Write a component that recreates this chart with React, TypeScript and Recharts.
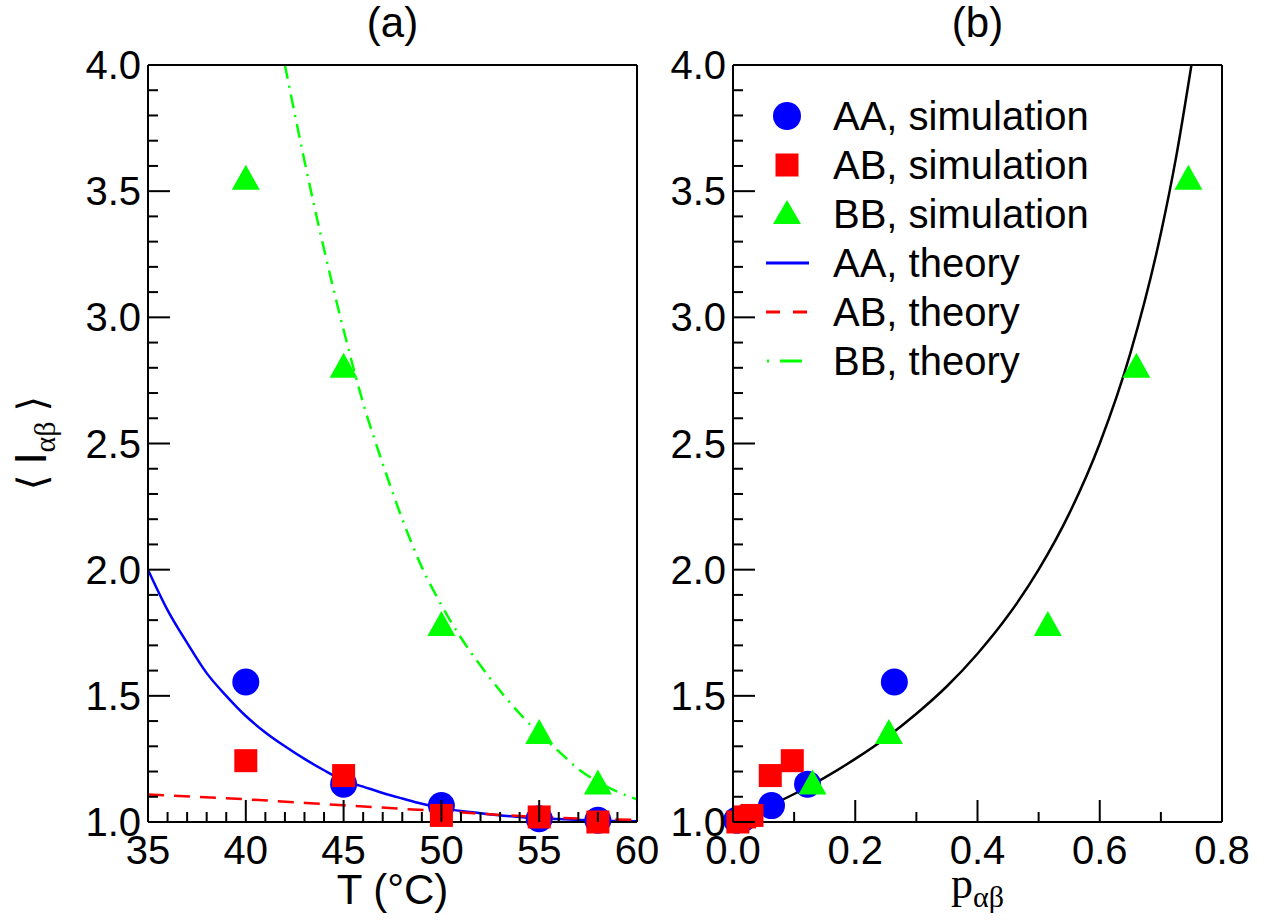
import React from "react";
import { ComposedChart, Line, Scatter, XAxis, YAxis, Legend } from "recharts";

const FONT = "'Liberation Sans', Arial, Helvetica, sans-serif";
const SERIF = "'Liberation Serif', 'DejaVu Serif', serif";

const BLUE = "#0000ff";
const RED = "#ff0000";
const GREEN = "#00ff00";

// panel (a): mean I vs temperature
const tempSim = [40, 45, 50, 55, 58];
const aaSimT = [1.555, 1.15, 1.065, 1.013, 1.007];
const abSimT = [1.243, 1.184, 1.026, 1.02, 1.0];
const bbSimT = [3.545, 2.8, 1.777, 1.349, 1.149];

const tempAA = [35, 36, 37, 38, 39, 40, 41, 42, 43, 44, 45, 46, 47, 48, 49, 50, 52, 54, 56, 58, 60];
const aaTheoryT = [2.0, 1.84, 1.71, 1.59, 1.5, 1.42, 1.355, 1.3, 1.25, 1.205, 1.165, 1.14, 1.115, 1.093, 1.072, 1.055, 1.035, 1.02, 1.012, 1.006, 1.003];
const tempAB = [35, 40, 45, 50, 55, 60];
const abTheoryT = [1.109, 1.09, 1.066, 1.043, 1.02, 1.008];
const tempBB = [42, 43, 44, 45, 46, 47, 48, 49, 50, 51, 52, 53, 54, 55, 56, 57, 58, 59, 60];
const bbTheoryT = [4.0, 3.62, 3.27, 2.95, 2.66, 2.42, 2.2, 2.01, 1.86, 1.73, 1.62, 1.52, 1.43, 1.35, 1.28, 1.21, 1.16, 1.12, 1.09];

// panel (b): mean I vs p
const aaP = [0.264, 0.122, 0.063, 0.016, 0.006];
const abP = [0.097, 0.061, 0.031, 0.019, 0.008];
const bbP = [0.745, 0.66, 0.515, 0.255, 0.13];
const pTheory = [0, 0.05, 0.1, 0.15, 0.2, 0.25, 0.3, 0.35, 0.4, 0.45, 0.5, 0.55, 0.6, 0.65, 0.7, 0.725, 0.75];
const iTheory = [1.0, 1.053, 1.111, 1.176, 1.25, 1.333, 1.429, 1.538, 1.667, 1.818, 2.0, 2.222, 2.5, 2.857, 3.333, 3.636, 4.0];

// axis ticks
const tempTicks = [35, 36, 37, 38, 39, 40, 41, 42, 43, 44, 45, 46, 47, 48, 49, 50, 51, 52, 53, 54, 55, 56, 57, 58, 59, 60];
const pTicks = [0, 0.1, 0.2, 0.3, 0.4, 0.5, 0.6, 0.7, 0.8];
const iTicks = [1.0, 1.1, 1.2, 1.3, 1.4, 1.5, 1.6, 1.7, 1.8, 1.9, 2.0, 2.1, 2.2, 2.3, 2.4, 2.5, 2.6, 2.7, 2.8, 2.9, 3.0, 3.1, 3.2, 3.3, 3.4, 3.5, 3.6, 3.7, 3.8, 3.9, 4.0];

const legendLabels = [
  "AA, simulation",
  "AB, simulation",
  "BB, simulation",
  "AA, theory",
  "AB, theory",
  "BB, theory",
];

const zip = (xs: number[], ys: number[]) => xs.map((x, i) => ({ x, y: ys[i] }));

const MAJOR = 22;
const MINOR = 10;

const isMajor = (v: number, step: number) => Math.abs(v / step - Math.round(v / step)) < 1e-6;

const labelStyle = { fontFamily: FONT, fontSize: 40, fill: "#000" };
const titleStyle = { fontFamily: FONT, fontSize: 42, fill: "#000" };

function bottomTick(step: number, digits: number) {
  return (p: any) => {
    const v = p.payload.value;
    const major = isMajor(v, step);
    return (
      <g>
        <line x1={p.x} y1={p.y} x2={p.x} y2={p.y - (major ? MAJOR : MINOR)} stroke="#000" strokeWidth={2} />
        {major && (
          <text x={p.x} y={p.y + 42} textAnchor="middle" style={labelStyle}>
            {v.toFixed(digits)}
          </text>
        )}
      </g>
    );
  };
}

function topTick(step: number) {
  return (p: any) => {
    const major = isMajor(p.payload.value, step);
    return <line x1={p.x} y1={p.y} x2={p.x} y2={p.y + (major ? MAJOR : MINOR)} stroke="#000" strokeWidth={2} />;
  };
}

const leftTick = (p: any) => {
  const v = p.payload.value;
  const major = isMajor(v, 0.5);
  return (
    <g>
      <line x1={p.x} y1={p.y} x2={p.x + (major ? MAJOR : MINOR)} y2={p.y} stroke="#000" strokeWidth={2} />
      {major && (
        <text x={p.x - 7} y={p.y + 14} textAnchor="end" style={labelStyle}>
          {v.toFixed(1)}
        </text>
      )}
    </g>
  );
};

const rightTick = (p: any) => {
  const major = isMajor(p.payload.value, 0.5);
  return <line x1={p.x} y1={p.y} x2={p.x - (major ? MAJOR : MINOR)} y2={p.y} stroke="#000" strokeWidth={2} />;
};

const circleShape = (p: any) => <circle cx={p.cx} cy={p.cy} r={13.5} fill={BLUE} />;
const squareShape = (p: any) => <rect x={p.cx - 11.5} y={p.cy - 11.5} width={23} height={23} fill={RED} />;
const triangleShape = (p: any) => (
  <polygon points={`${p.cx},${p.cy - 15} ${p.cx - 14},${p.cy + 10} ${p.cx + 14},${p.cy + 10}`} fill={GREEN} />
);

const axisLine = { stroke: "#000", strokeWidth: 2 };

function LegendBox() {
  const rowY = (i: number) => 26 + i * 49;
  return (
    <svg width={360} height={300} style={{ overflow: "visible" }}>
      <circle cx={27} cy={rowY(0)} r={14} fill={BLUE} />
      <rect x={15.5} y={rowY(1) - 11.5} width={23} height={23} fill={RED} />
      <polygon points={`27,${rowY(2) - 14} 13,${rowY(2) + 10} 41,${rowY(2) + 10}`} fill={GREEN} />
      <line x1={6} y1={rowY(3)} x2={49} y2={rowY(3)} stroke={BLUE} strokeWidth={3} />
      <line x1={6} y1={rowY(4)} x2={49} y2={rowY(4)} stroke={RED} strokeWidth={3} strokeDasharray="14 13" />
      <line x1={7} y1={rowY(5)} x2={49} y2={rowY(5)} stroke={GREEN} strokeWidth={3} strokeDasharray="2 11 22 8" />
      {legendLabels.map((t, i) => (
        <text key={t} x={73} y={rowY(i) + 14} style={labelStyle}>
          {t}
        </text>
      ))}
    </svg>
  );
}

const CH = 921;
const TOP = 55;
const BOTTOM = 39;

export default function App() {
  return (
    <div style={{ position: "absolute", left: 0, top: 0, width: 1267, height: 921, background: "#fff" }}>
      <div style={{ position: "absolute", left: 0, top: 0 }}>
        <ComposedChart width={660} height={CH} margin={{ top: TOP, right: 13, bottom: BOTTOM, left: 88 }}>
          <XAxis
            dataKey="x"
            type="number"
            domain={[35, 60]}
            ticks={tempTicks}
            interval={0}
            tickSize={0}
            tickMargin={0}
            height={60}
            axisLine={axisLine}
            tick={bottomTick(5, 0)}
            label={(p: any) => (
              <text x={p.viewBox.x + p.viewBox.width / 2} y={p.viewBox.y + 82} textAnchor="middle" style={titleStyle}>
                T (°C)
              </text>
            )}
          />
          <XAxis
            xAxisId="top"
            orientation="top"
            type="number"
            domain={[35, 60]}
            ticks={tempTicks}
            interval={0}
            tickSize={0}
            tickMargin={0}
            height={10}
            axisLine={axisLine}
            tick={topTick(5)}
            label={(p: any) => (
              <text x={p.viewBox.x + p.viewBox.width / 2} y={p.viewBox.y - 18} textAnchor="middle" style={titleStyle}>
                (a)
              </text>
            )}
          />
          <YAxis
            dataKey="y"
            type="number"
            domain={[1, 4]}
            ticks={iTicks}
            interval={0}
            tickSize={0}
            tickMargin={0}
            width={60}
            axisLine={axisLine}
            tick={leftTick}
            label={(p: any) => (
              <text
                transform={`translate(${p.viewBox.x + p.viewBox.width - 102}, 443) rotate(-90)`}
                textAnchor="middle"
                style={{ fontFamily: FONT, fontSize: 40, fill: "#000" }}
              >
                <tspan style={{ fontFamily: SERIF }}>⟨ </tspan>
                <tspan style={{ fontSize: 44 }}>I</tspan>
                <tspan dy={9} style={{ fontFamily: SERIF, fontSize: 30 }}>αβ</tspan>
                <tspan dy={-9} style={{ fontFamily: SERIF }}> ⟩</tspan>
              </text>
            )}
          />
          <YAxis
            yAxisId="right"
            orientation="right"
            type="number"
            domain={[1, 4]}
            ticks={iTicks}
            interval={0}
            tickSize={0}
            tickMargin={0}
            width={10}
            axisLine={axisLine}
            tick={rightTick}
          />
          <Scatter data={zip(tempSim, aaSimT)} shape={circleShape} isAnimationActive={false} />
          <Scatter data={zip(tempSim, abSimT)} shape={squareShape} isAnimationActive={false} />
          <Scatter data={zip(tempSim, bbSimT)} shape={triangleShape} isAnimationActive={false} />
          <Line data={zip(tempAA, aaTheoryT)} dataKey="y" type="monotone" stroke={BLUE} strokeWidth={2.5} dot={false} activeDot={false} isAnimationActive={false} />
          <Line data={zip(tempAB, abTheoryT)} dataKey="y" type="monotone" stroke={RED} strokeWidth={2.5} strokeDasharray="16 10" dot={false} activeDot={false} isAnimationActive={false} />
          <Line data={zip(tempBB, bbTheoryT)} dataKey="y" type="monotone" stroke={GREEN} strokeWidth={2.5} strokeDasharray="14 7 2 7" dot={false} activeDot={false} isAnimationActive={false} />
        </ComposedChart>
      </div>

      <div style={{ position: "absolute", left: 660, top: 0 }}>
        <ComposedChart width={607} height={CH} margin={{ top: TOP, right: 35, bottom: BOTTOM, left: 13 }}>
          <XAxis
            dataKey="x"
            type="number"
            domain={[0, 0.8]}
            ticks={pTicks}
            interval={0}
            tickSize={0}
            tickMargin={0}
            height={60}
            axisLine={axisLine}
            tick={bottomTick(0.2, 1)}
            label={(p: any) => (
              <text x={p.viewBox.x + p.viewBox.width / 2} y={p.viewBox.y + 76} textAnchor="middle" style={{ fontFamily: SERIF, fontSize: 44, fill: "#000" }}>
                p
                <tspan dy={9} style={{ fontSize: 30 }}>αβ</tspan>
              </text>
            )}
          />
          <XAxis
            xAxisId="top"
            orientation="top"
            type="number"
            domain={[0, 0.8]}
            ticks={pTicks}
            interval={0}
            tickSize={0}
            tickMargin={0}
            height={10}
            axisLine={axisLine}
            tick={topTick(0.2)}
            label={(p: any) => (
              <text x={p.viewBox.x + p.viewBox.width / 2} y={p.viewBox.y - 18} textAnchor="middle" style={titleStyle}>
                (b)
              </text>
            )}
          />
          <YAxis
            dataKey="y"
            type="number"
            domain={[1, 4]}
            ticks={iTicks}
            interval={0}
            tickSize={0}
            tickMargin={0}
            width={60}
            axisLine={axisLine}
            tick={leftTick}
          />
          <YAxis
            yAxisId="right"
            orientation="right"
            type="number"
            domain={[1, 4]}
            ticks={iTicks}
            interval={0}
            tickSize={0}
            tickMargin={0}
            width={10}
            axisLine={axisLine}
            tick={rightTick}
          />
          <Legend
            layout="vertical"
            align="center"
            verticalAlign="middle"
            wrapperStyle={{ left: 100, top: 90, width: 360, height: 300 }}
            content={() => <LegendBox />}
          />
          <Scatter data={zip(aaP, aaSimT)} shape={circleShape} isAnimationActive={false} />
          <Scatter data={zip(abP, abSimT)} shape={squareShape} isAnimationActive={false} />
          <Scatter data={zip(bbP, bbSimT)} shape={triangleShape} isAnimationActive={false} />
          <Line data={zip(pTheory, iTheory)} dataKey="y" type="monotone" stroke="#000" strokeWidth={2.5} dot={false} activeDot={false} isAnimationActive={false} />
        </ComposedChart>
      </div>
    </div>
  );
}
